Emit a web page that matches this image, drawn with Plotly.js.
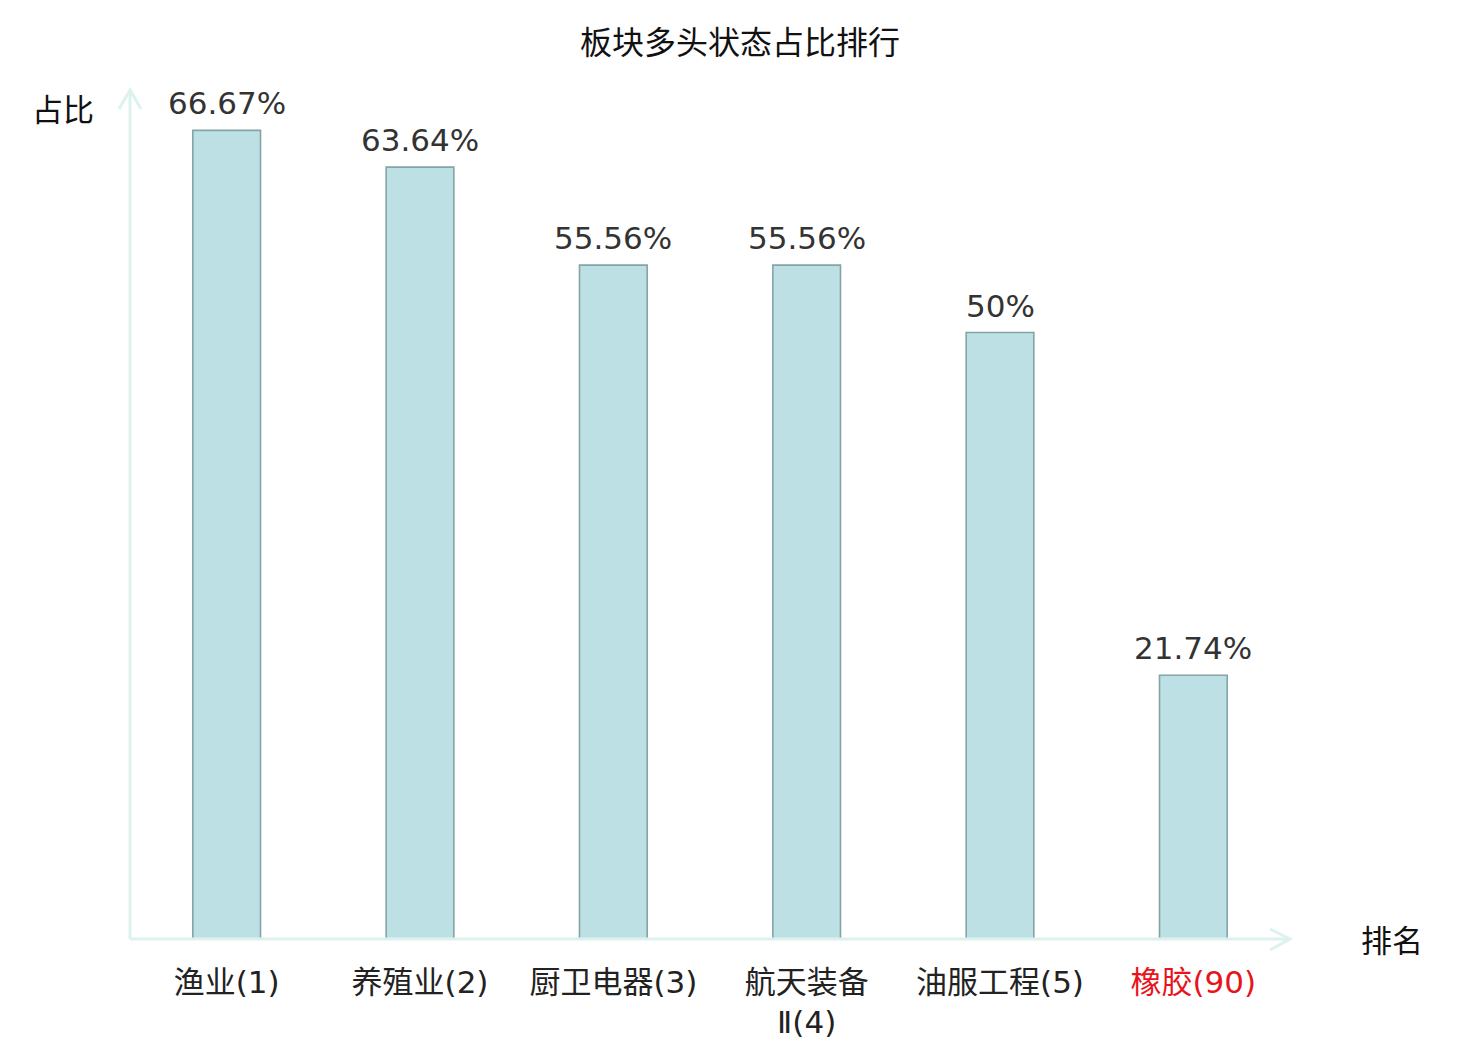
<!DOCTYPE html>
<html>
<head>
<meta charset="utf-8">
<script src="https://cdn.plot.ly/plotly-3.0.1.min.js"></script>
<style>
  html, body { margin: 0; padding: 0; background: #fff; }
  #graph { width: 1480px; height: 1040px; }
</style>
</head>
<body>
<div id="graph"></div>
<script>
// categories and values
var sectors = ['渔业(1)', '养殖业(2)', '厨卫电器(3)', '航天装备<br>Ⅱ(4)', '油服工程(5)', '橡胶(90)'];
var shares = [66.67, 63.64, 55.56, 55.56, 50, 21.74];
var shareLabels = ['66.67%', '63.64%', '55.56%', '55.56%', '50%', '21.74%'];
var highlight = [false, false, false, false, false, true];

var fontFamily = 'DejaVu Sans, "Noto Sans CJK SC", sans-serif';
var axisColor = '#ddf2ef';

var keys = sectors.map(function (s, i) { return 'c' + i; });
var tickText = sectors.map(function (s, i) {
    return highlight[i] ? '<span style="color:#e8141b">' + s + '</span>' : s;
});

// page geometry in pixels, used to place the hand drawn axis arrows
var W = 1480, H = 1040, ml = 130, mr = 190, mt = 90, mb = 101;
var pw = W - ml - mr, ph = H - mt - mb;
function px(x) { return (x - ml) / pw; }
function py(y) { return (H - mb - y) / ph; }

var trace = {
    x: keys,
    y: shares,
    type: 'bar',
    width: 0.35,
    marker: {
        color: 'rgb(188,224,227)',
        line: {color: 'rgb(132,164,166)', width: 1.6}
    },
    hoverinfo: 'skip'
};

// value labels above bars
var annotations = keys.map(function (k, i) {
    return {
        x: k, y: shares[i], xref: 'x', yref: 'y',
        text: shareLabels[i], showarrow: false,
        yanchor: 'bottom', yshift: 7,
        font: {family: fontFamily, size: 31, color: '#333333'}
    };
});

annotations.push({
    x: px(63), y: py(110), xref: 'paper', yref: 'paper', text: '占比', showarrow: false,
    xanchor: 'center', yanchor: 'middle',
    font: {family: fontFamily, size: 31, color: '#111'}
});
annotations.push({
    x: px(1392), y: py(941), xref: 'paper', yref: 'paper', text: '排名', showarrow: false,
    xanchor: 'center', yanchor: 'middle',
    font: {family: fontFamily, size: 31, color: '#111'}
});

var shapes = [
    {type: 'line', xref: 'paper', yref: 'paper', x0: 0, y0: 0, x1: 0, y1: py(90),
        line: {color: axisColor, width: 3}},
    {type: 'path', xref: 'paper', yref: 'paper',
        path: 'M' + px(119) + ',' + py(109) + ' L' + px(130) + ',' + py(90) + ' L' + px(141) + ',' + py(109),
        line: {color: axisColor, width: 3}},
    {type: 'line', xref: 'paper', yref: 'paper', x0: 0, y0: 0, x1: px(1290), y1: 0,
        line: {color: axisColor, width: 3}},
    {type: 'path', xref: 'paper', yref: 'paper',
        path: 'M' + px(1270) + ',' + py(929) + ' L' + px(1290) + ',' + py(939) + ' L' + px(1270) + ',' + py(950),
        line: {color: axisColor, width: 3}}
];

var layout = {
    width: W, height: H,
    margin: {l: ml, r: mr, t: mt, b: mb, pad: 0},
    paper_bgcolor: '#fff', plot_bgcolor: '#fff',
    showlegend: false,
    title: {
        text: '板块多头状态占比排行',
        x: 0.5, xref: 'container', xanchor: 'center',
        y: 1 - 43 / H, yanchor: 'middle',
        font: {family: fontFamily, size: 32, color: '#111'}
    },
    xaxis: {
        type: 'category',
        tickvals: keys, ticktext: tickText,
        range: [-0.5, 5.5],
        showline: false, showgrid: false, zeroline: false,
        ticks: '', ticklabelstandoff: 22,
        tickfont: {family: fontFamily, size: 31, color: '#222'},
        fixedrange: true
    },
    yaxis: {
        range: [0, 70],
        showline: false, showgrid: false, zeroline: false,
        showticklabels: false, ticks: '',
        fixedrange: true
    },
    annotations: annotations,
    shapes: shapes
};

Plotly.newPlot('graph', [trace], layout, {displayModeBar: false, staticPlot: true});
</script>
</body>
</html>
